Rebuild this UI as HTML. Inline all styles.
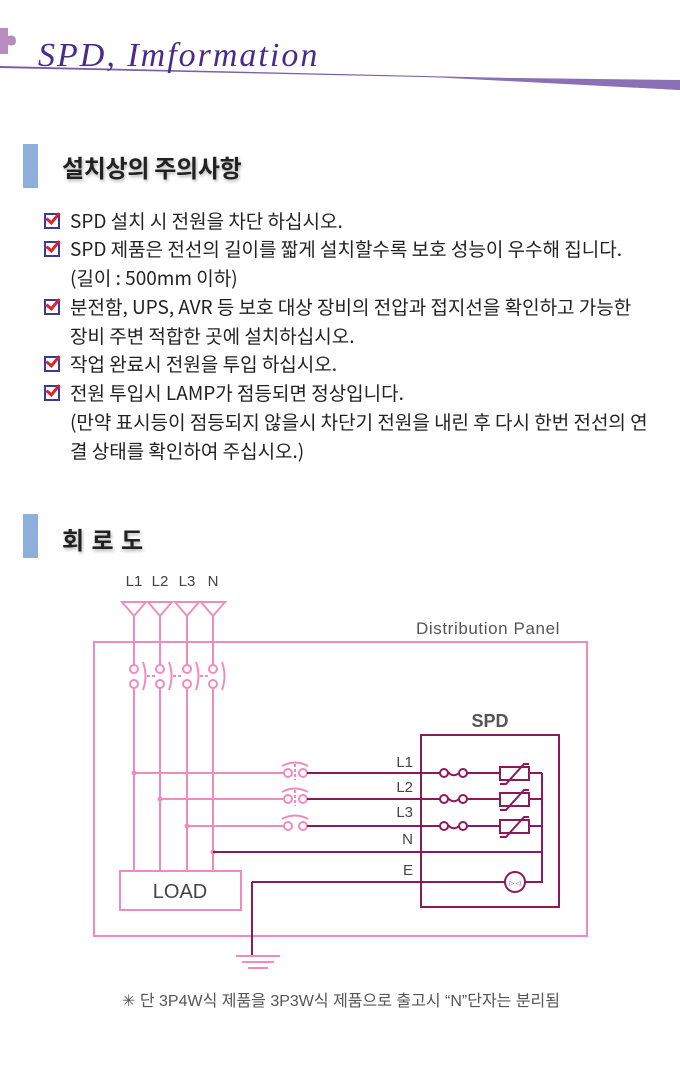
<!DOCTYPE html>
<html><head><meta charset="utf-8"><style>
body{margin:0;width:680px;height:1072px;background:#fff;position:relative;overflow:hidden;font-family:"Liberation Sans","Noto Sans CJK KR",sans-serif;}
.t{position:absolute;white-space:nowrap;font-family:"Noto Sans CJK KR","Liberation Sans",sans-serif;font-size:19px;color:#222;letter-spacing:0px;line-height:20px;}
.h{position:absolute;font-family:"Noto Sans CJK KR",sans-serif;font-weight:bold;font-size:24px;color:#222;text-shadow:1px 2px 3px rgba(0,0,0,.3);letter-spacing:-0.3px;}
.bar{position:absolute;left:23px;width:15px;height:44px;background:#8eaedb;}
.cb{position:absolute;left:44px;width:12px;height:12px;border:2px solid #3a3a9a;}
.cb:after{content:"";position:absolute;left:3px;top:-5px;width:5px;height:11px;border-right:3px solid #d9232e;border-bottom:3px solid #d9232e;transform:rotate(40deg);}
</style></head><body>
<svg width="680" height="100" style="position:absolute;left:0;top:0">
<path d="M0 28 L8 28 L8 36 Q16 34 16 41 Q16 47 8 45 L8 54 L0 54Z" fill="#b98cc0"/>
<path d="M0 66 L680 82 L680 90 L470 78 L0 68Z" fill="#7a5fa6"/>
<path d="M430 77 L680 80 L680 90Z" fill="#8a70b4"/>
<text x="38" y="66" font-family="Liberation Serif,serif" font-style="italic" font-size="34" fill="#4a2a8a" letter-spacing="2">SPD, Imformation</text>
</svg>
<div class="bar" style="top:144px"></div>
<div class="h" style="left:62px;top:149px">설치상의 주의사항</div>
<div class="cb" style="top:213px"></div><div class="t" style="left:70px;top:211px">SPD 설치 시 전원을 차단 하십시오.</div>
<div class="cb" style="top:241px"></div><div class="t" style="left:70px;top:239px">SPD 제품은 전선의 길이를 짧게 설치할수록 보호 성능이 우수해 집니다.</div>
<div class="t" style="left:70px;top:268px">(길이 : 500mm 이하)</div>
<div class="cb" style="top:299px"></div><div class="t" style="left:70px;top:297px">분전함, UPS, AVR 등 보호 대상 장비의 전압과 접지선을 확인하고 가능한</div>
<div class="t" style="left:70px;top:326px">장비 주변 적합한 곳에 설치하십시오.</div>
<div class="cb" style="top:356px"></div><div class="t" style="left:70px;top:354px">작업 완료시 전원을 투입 하십시오.</div>
<div class="cb" style="top:385px"></div><div class="t" style="left:70px;top:383px">전원 투입시 LAMP가 점등되면 정상입니다.</div>
<div class="t" style="left:70px;top:412px">(만약 표시등이 점등되지 않을시 차단기 전원을 내린 후 다시 한번 전선의 연</div>
<div class="t" style="left:70px;top:441px">결 상태를 확인하여 주십시오.)</div>
<div class="bar" style="top:514px"></div>
<div class="h" style="left:62px;top:521px;letter-spacing:1px">회 로 도</div>
<svg width="680" height="1072" style="position:absolute;left:0;top:0" font-family="Liberation Sans,sans-serif">
<g fill="#444" font-size="15" text-anchor="middle">
<text x="134" y="586">L1</text><text x="160" y="586">L2</text><text x="187" y="586">L3</text><text x="213" y="586">N</text>
</g>
<text x="416" y="634" font-size="17" fill="#555" letter-spacing="0.6">Distribution Panel</text>
<g stroke="#f08cbd" stroke-width="2" fill="none">
<rect x="94" y="642" width="493" height="294"/>
<path d="M122 602h24l-12 14z M148 602h24l-12 14z M175 602h24l-12 14z M201 602h24l-12 14z"/>
<path d="M134 616V665 M160 616V665 M187 616V665 M213 616V665"/>
<circle cx="134" cy="669" r="4"/><circle cx="134" cy="684" r="4"/>
<circle cx="160" cy="669" r="4"/><circle cx="160" cy="684" r="4"/>
<circle cx="187" cy="669" r="4"/><circle cx="187" cy="684" r="4"/>
<circle cx="213" cy="669" r="4"/><circle cx="213" cy="684" r="4"/>
<path d="M143 662q5 14 0 28 M169 662q5 14 0 28 M196 662q5 14 0 28 M222 662q5 14 0 28"/>
<path d="M147 676h9 M173 676h9 M200 676h9" stroke-dasharray="3 2"/>
<path d="M134 688V871 M160 688V871 M187 688V871 M213 688V871"/>
<path d="M134 773H284 M160 799H284 M187 826H284"/>
<circle cx="288" cy="773" r="4"/><circle cx="303" cy="773" r="4"/>
<circle cx="288" cy="799" r="4"/><circle cx="303" cy="799" r="4"/>
<circle cx="288" cy="826" r="4"/><circle cx="303" cy="826" r="4"/>
<path d="M282 766q13-7 26 0 M282 792q13-7 26 0 M282 819q13-7 26 0"/>
<path d="M295 764v16 M295 790v16" stroke-dasharray="3 2"/>
<rect x="120" y="871" width="121" height="39"/>
<path d="M236 956h44 M242 962h32 M248 968h20"/>
</g>
<g fill="#f08cbd"><circle cx="134" cy="773" r="2.5"/><circle cx="160" cy="799" r="2.5"/><circle cx="187" cy="826" r="2.5"/><circle cx="213" cy="852" r="2.5"/></g>
<text x="180" y="898" font-size="20" fill="#444" text-anchor="middle">LOAD</text>
<text x="490" y="727" font-size="18" font-weight="bold" fill="#555" text-anchor="middle">SPD</text>
<g font-size="15" fill="#444" text-anchor="end"><text x="413" y="767">L1</text><text x="413" y="792">L2</text><text x="413" y="817">L3</text><text x="413" y="844">N</text><text x="413" y="875">E</text></g>
<g stroke="#8b1a5a" stroke-width="2" fill="none">
<rect x="421" y="735" width="138" height="172"/>
<path d="M307 773H440 M307 799H440 M307 826H440 M213 852H542 M252 882H505 M252 882V955"/>
<circle cx="444" cy="773" r="4"/><circle cx="463" cy="773" r="4"/><path d="M448 772q5 6 11 1"/>
<circle cx="444" cy="799" r="4"/><circle cx="463" cy="799" r="4"/><path d="M448 798q5 6 11 1"/>
<circle cx="444" cy="826" r="4"/><circle cx="463" cy="826" r="4"/><path d="M448 825q5 6 11 1"/>
<path d="M467 773H500 M467 799H500 M467 826H500"/>
<rect x="500" y="767" width="29" height="13"/><rect x="500" y="793" width="29" height="13"/><rect x="500" y="820" width="29" height="13"/>
<path d="M500 784h6l18-20h5 M500 810h6l18-20h5 M500 837h6l18-20h5"/>
<path d="M529 773H542 M529 799H542 M529 826H542 M542 773V882H525"/>
<circle cx="515" cy="882" r="10"/>
</g>
<text x="515" y="885" font-size="6" fill="#8b1a5a" text-anchor="middle">▷ ◁</text>
<text x="341" y="1006" font-size="16" fill="#555" text-anchor="middle" font-family="Liberation Sans,Noto Sans CJK KR,sans-serif">✳  단 3P4W식 제품을 3P3W식 제품으로 출고시 “N”단자는 분리됨</text>
</svg>
</body></html>
